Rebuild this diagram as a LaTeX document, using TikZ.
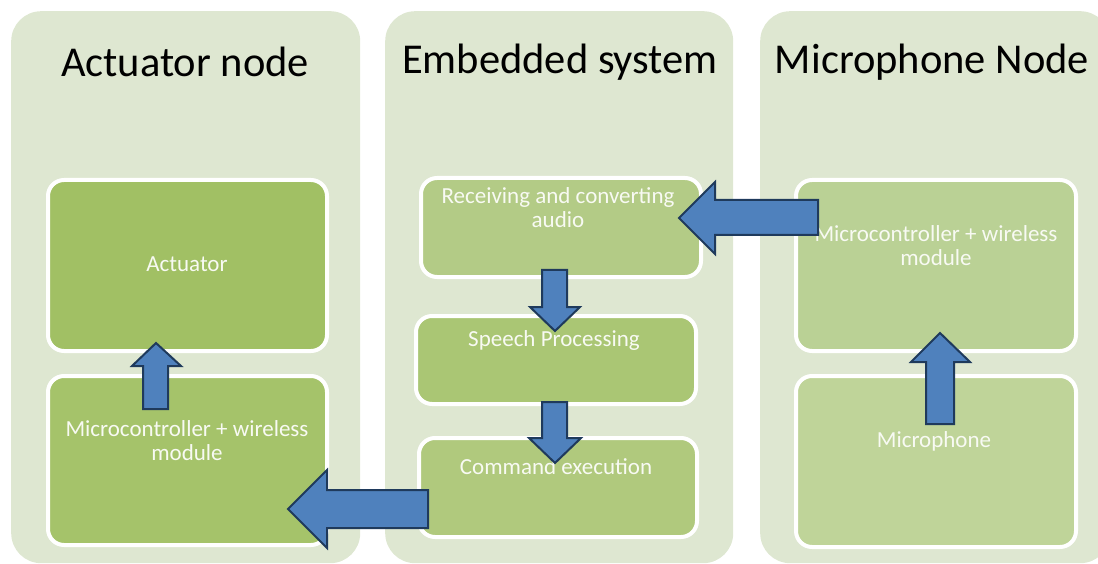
\documentclass[tikz,border=0pt]{standalone}
\usepackage{fontspec}
\setmainfont{Carlito}
\usetikzlibrary{positioning}
\definecolor{panelbg}{RGB}{222,231,209}
\definecolor{cA}{RGB}{161,192,100}
\definecolor{cB}{RGB}{165,195,106}
\definecolor{cC}{RGB}{179,203,134}
\definecolor{cD}{RGB}{170,198,116}
\definecolor{cE}{RGB}{176,201,125}
\definecolor{cF}{RGB}{186,209,149}
\definecolor{cG}{RGB}{191,212,153}
\definecolor{arrowfill}{RGB}{79,129,189}
\definecolor{arrowline}{RGB}{31,58,92}
\definecolor{boxtxt}{RGB}{248,250,243}
\tikzset{
  panel/.style={fill=panelbg, draw=none, rounded corners=30pt, minimum width=#1, minimum height=552pt, anchor=north west, inner sep=0pt},
  sbox/.style={draw=white, line width=4pt, rounded corners=16pt, anchor=north west, inner sep=0pt},
  title/.style={font=\fontsize{42.5}{46}\selectfont, text=black, inner sep=0pt},
  boxtext/.style={font=\fontsize{23}{24}\selectfont, text=boxtxt, align=center, inner sep=0pt},
  blockarrow/.style={fill=arrowfill, draw=arrowline, line width=2pt, line join=miter},
}
\begin{document}
\begin{tikzpicture}[x=1pt,y=-1pt]
\useasboundingbox (0,0) rectangle (1098,564);
% panels
\node[panel=349pt] (pA) at (11,11) {};
\node[panel=348pt] (pE) at (385,11) {};
\node[panel=350pt] (pM) at (760,11) {};
% titles
\node[title] (tA) at (185,62) {Actuator node};
\node[title] (tE) at (560,62) {Embedded system};
\node[title] (tM) at (932,62) {Microphone Node};
% boxes
\node[sbox, fill=cA, minimum width=279pt, minimum height=171pt] (act) at (46,178) {};
\node[sbox, fill=cB, minimum width=279pt, minimum height=169pt] (mcA) at (46,374) {};
\node[sbox, fill=cC, minimum width=280pt, minimum height=99pt] (rec) at (419,176) {};
\node[sbox, fill=cD, minimum width=280pt, minimum height=88pt] (sp) at (414,314) {};
\node[sbox, fill=cE, minimum width=278pt, minimum height=99pt] (cmd) at (417,436) {};
\node[sbox, fill=cF, minimum width=280pt, minimum height=171pt] (mcM) at (794,178) {};
\node[sbox, fill=cG, minimum width=280pt, minimum height=171pt] (mic) at (794,374) {};
% texts
\node[boxtext] (tact) at (187,264) {Actuator};
\node[boxtext] (tmcA) at (187,441) {Microcontroller + wireless\\module};
\node[boxtext] (trec) at (558,208) {Receiving and converting\\audio};
\node[boxtext] (tsp) at (554,340) {Speech Processing};
\node[boxtext] (tcmd) at (556,467) {Command execution};
\node[boxtext] (tmcM) at (936,246) {Microcontroller + wireless\\module};
\node[boxtext] (tmic) at (934,441) {Microphone};
% block arrows
% microphone node -> receiving
\draw[blockarrow] (818,200) -- (715,200) -- (715,182) -- (679,218) -- (715,254) -- (715,235) -- (818,235) -- cycle;
% receiving -> speech
\draw[blockarrow] (542,270) -- (567,270) -- (567,307) -- (580,307) -- (555,331) -- (530,307) -- (542,307) -- cycle;
% speech -> command
\draw[blockarrow] (542,402) -- (567,402) -- (567,438) -- (581,438) -- (555,463) -- (529,438) -- (542,438) -- cycle;
% command -> microcontroller (actuator node)
\draw[blockarrow] (428,490) -- (327,490) -- (327,470) -- (288,509) -- (327,548) -- (327,528) -- (428,528) -- cycle;
% microcontroller -> actuator
\draw[blockarrow] (143,409) -- (143,366) -- (132,366) -- (156,343) -- (181,366) -- (168,366) -- (168,409) -- cycle;
% microphone -> microcontroller
\draw[blockarrow] (926,424) -- (926,362) -- (911,362) -- (940,333) -- (970,362) -- (954,362) -- (954,424) -- cycle;
\end{tikzpicture}
\end{document}
